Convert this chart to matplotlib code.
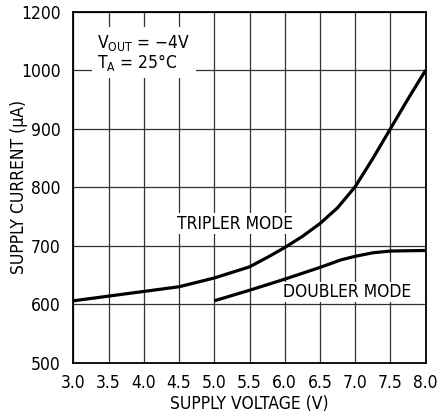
#!/usr/bin/env python3
#
# Supply current vs supply voltage, tripler / doubler mode
#
import matplotlib
matplotlib.use('Agg')
import matplotlib.pyplot as plt
from matplotlib import font_manager

# Data
v_trip = [3.0, 3.5, 4.0, 4.5, 5.0, 5.5, 5.75, 6.0, 6.25, 6.5, 6.75, 7.0,
          7.25, 7.5, 7.75, 8.0]
i_trip = [606, 614, 622, 630, 645, 664, 680, 697, 716, 738, 765, 801,
          849, 900, 951, 1000]
v_doub = [5.0, 5.5, 6.0, 6.5, 6.8, 7.0, 7.25, 7.5, 8.0]
i_doub = [606, 624, 643, 663, 676, 682, 688, 691, 692]

xticks = [3.0, 3.5, 4.0, 4.5, 5.0, 5.5, 6.0, 6.5, 7.0, 7.5, 8.0]
yticks = [500, 600, 700, 800, 900, 1000, 1100]
ylabels = ['500', '600', '700', '800', '900', '1000', '1200']

# Prefer a condensed face, like the datasheet font
fam = 'DejaVu Sans'
stretch = 'normal'
for f in font_manager.fontManager.ttflist:
    if f.name == 'Liberation Sans Narrow':
        fam, stretch = 'Liberation Sans Narrow', 'normal'
        break
    if f.name == 'DejaVu Sans' and f.stretch == 'condensed':
        stretch = 'condensed'
plt.rcParams['font.family'] = [fam, 'DejaVu Sans']
plt.rcParams['font.stretch'] = stretch
plt.rcParams['mathtext.fontset'] = 'custom'
plt.rcParams['mathtext.rm'] = f'{fam}:stretch={stretch}'
plt.rcParams['mathtext.it'] = f'{fam}:stretch={stretch}'
fs = 12.5

fig = plt.figure(figsize=(4.37, 4.18), dpi=100)
fig.subplots_adjust(0.168, 0.132, 0.974, 0.972)
ax = fig.add_subplot(111)

ax.set_xlim(3.0, 8.0)
ax.set_ylim(500, 1100)
ax.set_xticks(xticks)
ax.set_xticklabels([f'{x:.1f}' for x in xticks], fontsize=fs)
ax.set_yticks(yticks)
ax.set_yticklabels(ylabels, fontsize=fs)
ax.tick_params(axis='x', length=0, pad=8)
ax.tick_params(axis='y', length=0, pad=9)
ax.grid(color='#333333', lw=0.9, zorder=0)
for s in ax.spines.values():
    s.set_linewidth(1.3)

ax.plot(v_trip, i_trip, color='k', lw=2.3, zorder=3, solid_capstyle='butt')
ax.plot(v_doub, i_doub, color='k', lw=2.3, zorder=3, solid_capstyle='butt')

ax.set_xlabel('SUPPLY VOLTAGE (V)', fontsize=fs, labelpad=2)
ax.set_ylabel('SUPPLY CURRENT (\u03bcA)', fontsize=fs, va='center')
ax.yaxis.set_label_coords(-0.155, 0.5)

# Conditions box
box = dict(facecolor='white', edgecolor='none', pad=4)
ax.text(3.34, 1030, '$\\mathregular{V_{OUT}}$ = \u22124V\n'
        '$\\mathregular{T_A}$ = 25\u00b0C', fontsize=fs, va='center',
        ha='left', linespacing=0.95, bbox=box, zorder=4)

lbl = dict(facecolor='white', edgecolor='none', pad=1)
ax.text(4.47, 738, 'TRIPLER MODE', fontsize=fs, va='center', ha='left',
        bbox=lbl, zorder=4)
ax.text(5.97, 621, 'DOUBLER MODE', fontsize=fs, va='center', ha='left',
        bbox=lbl, zorder=4)

fig.savefig('out.png', dpi=100)
